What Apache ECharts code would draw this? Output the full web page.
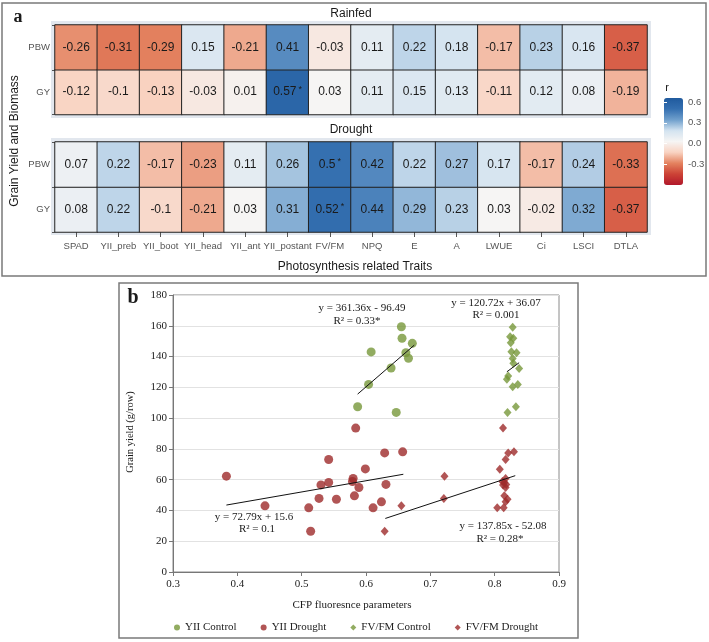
<!DOCTYPE html>
<html><head><meta charset="utf-8">
<script src="https://cdn.jsdelivr.net/npm/echarts@6/dist/echarts.min.js"></script>
<style>html,body{margin:0;padding:0;background:#fff}#c{width:709px;height:642px}</style>
</head><body><div id="c"></div>
<script>
// ---------- Panel a: correlation heatmap ----------
const traits = ['SPAD','YII_preb','YII_boot','YII_head','YII_ant','YII_postant','FV/FM','NPQ','E','A','LWUE','Ci','LSCI','DTLA'];
const responses = ['GY','PBW'];
const rainfedPBW = [-0.26,-0.31,-0.29,0.15,-0.21,0.41,-0.03,0.11,0.22,0.18,-0.17,0.23,0.16,-0.37];
const rainfedGY  = [-0.12,-0.1,-0.13,-0.03,0.01,0.57,0.03,0.11,0.15,0.13,-0.11,0.12,0.08,-0.19];
const droughtPBW = [0.07,0.22,-0.17,-0.23,0.11,0.26,0.5,0.42,0.22,0.27,0.17,-0.17,0.24,-0.33];
const droughtGY  = [0.08,0.22,-0.1,-0.21,0.03,0.31,0.52,0.44,0.29,0.23,0.03,-0.02,0.32,-0.37];
const rainfedPBWSig = [0,0,0,0,0,0,0,0,0,0,0,0,0,0];
const rainfedGYSig  = [0,0,0,0,0,1,0,0,0,0,0,0,0,0];
const droughtPBWSig = [0,0,0,0,0,0,1,0,0,0,0,0,0,0];
const droughtGYSig  = [0,0,0,0,0,0,1,0,0,0,0,0,0,0];
const colorbarTicks = [-0.3, 0, 0.3, 0.6];

// ---------- Panel b: scatter ----------
const yiiControlX = [0.655,0.656,0.672,0.608,0.662,0.666,0.639,0.604,0.587,0.647];
const yiiControlY = [159.4,151.9,148.6,143.0,142.5,138.9,132.6,121.9,107.4,103.7];
const yiiDroughtX = [0.584,0.657,0.629,0.542,0.599,0.383,0.580,0.579,0.542,0.530,0.631,0.589,0.582,0.527,0.554,0.624,0.443,0.511,0.611,0.514];
const yiiDroughtY = [93.5,78.1,77.4,73.1,67.0,62.3,60.8,58.8,58.2,56.6,56.9,54.9,49.5,47.8,47.3,45.6,43.0,41.7,41.7,26.5];
const fvfmControlX = [0.828,0.824,0.829,0.825,0.826,0.834,0.828,0.829,0.838,0.821,0.819,0.828,0.836,0.833,0.820];
const fvfmControlY = [159.0,152.9,151.9,149.0,143.1,142.5,138.8,135.6,132.3,127.3,125.2,120.4,121.9,107.4,103.7];
const fvfmDroughtX = [0.813,0.830,0.821,0.817,0.808,0.722,0.817,0.812,0.815,0.813,0.818,0.817,0.815,0.721,0.820,0.817,0.655,0.804,0.814,0.629];
const fvfmDroughtY = [93.5,78.1,77.4,73.1,66.8,62.3,60.8,58.8,58.2,56.6,56.9,54.9,49.5,47.8,47.3,45.6,43.0,41.7,41.7,26.5];
const yiiControlTrendX = [0.587,0.675], yiiControlTrendY = [115.6,147.4];
const yiiDroughtTrendX = [0.383,0.658], yiiDroughtTrendY = [43.5,63.5];
const fvfmControlTrendX = [0.819,0.838], fvfmControlTrendY = [130.1,136.0];
const fvfmDroughtTrendX = [0.630,0.832], fvfmDroughtTrendY = [34.8,62.6];
const seriesNames = ['YII Control','YII Drought','FV/FM Control','FV/FM Drought'];
const eqYiiControl = ['y = 361.36x - 96.49','R\u00b2 = 0.33*'];
const eqFvfmControl = ['y = 120.72x + 36.07','R\u00b2 = 0.001'];
const eqYiiDrought = ['y = 72.79x + 15.6','R\u00b2 = 0.1'];
const eqFvfmDrought = ['y = 137.85x - 52.08','R\u00b2 = 0.28*'];

const SANS = 'Liberation Sans, Arial, sans-serif';
const SERIF = 'Liberation Serif, Times New Roman, serif';
const GREEN = '#77973a', RED = '#9e2a2b';

function heatData(pbw, gy, pbwSig, gySig) {
  const d = [];
  traits.forEach((t, i) => {
    d.push({value: [i, 0, gy[i]], sig: gySig[i]});
    d.push({value: [i, 1, pbw[i]], sig: pbwSig[i]});
  });
  return d;
}
function zip(xs, ys) { return xs.map((x, i) => [x, ys[i]]); }

const heatLabel = {
  show: true,
  formatter: p => p.data.sig ? '{v|' + p.value[2] + '}{s|*}' : '{n|' + p.value[2] + '}',
  rich: {
    n: {fontSize: 12, fontFamily: SANS, color: '#1a1a1a', lineHeight: 14},
    v: {fontSize: 12, fontFamily: SANS, color: '#1a1a1a', lineHeight: 14, verticalAlign: 'middle'},
    s: {fontSize: 9, fontFamily: SANS, color: '#1a1a1a', verticalAlign: 'top', lineHeight: 10, padding: [0,0,10,2]}
  }
};
function heatSeries(idx, data) {
  return {
    type: 'heatmap', xAxisIndex: idx, yAxisIndex: idx, data: data,
    itemStyle: {borderColor: '#222', borderWidth: 1},
    label: heatLabel, emphasis: {disabled: true}, z: 2
  };
}
function catY(idx) {
  return {gridIndex: idx, type: 'category', data: responses,
    axisLine: {show: false}, axisTick: {show: true, length: 3, lineStyle: {color: '#555'}},
    axisLabel: {fontSize: 9.5, color: '#555', fontFamily: SANS, margin: 5}, splitLine: {show: false}};
}
function catX(idx, showLabels) {
  return {gridIndex: idx, type: 'category', data: traits, position: 'bottom',
    axisLine: {show: false}, axisTick: {show: showLabels, length: 5, alignWithLabel: true, lineStyle: {color: '#555'}},
    axisLabel: {show: showLabels, fontSize: 9.5, color: '#555', fontFamily: SANS, margin: 9, interval: 0},
    splitLine: {show: false}};
}
function text(x, y, t, font, extra) {
  return Object.assign({type: 'text', x: x, y: y, z: 10,
    style: {text: t, textAlign: 'center', textVerticalAlign: 'middle', font: font, fill: '#1a1a1a'}}, extra || {});
}

const chart = echarts.init(document.getElementById('c'), null, {renderer: 'canvas'});
chart.setOption({
  animation: false,
  backgroundColor: '#fff',
  grid: [
    {left: 55, top: 25, width: 592, height: 89.5},
    {left: 55, top: 142, width: 592, height: 90},
    {left: 173, top: 295, width: 386, height: 277, show: true, borderColor: '#8a8a8a', borderWidth: 1},
    {left: 664, top: 98, width: 19, height: 87}
  ],
  xAxis: [
    catX(0, false), catX(1, true),
    {gridIndex: 2, type: 'value', min: 0.3, max: 0.9, interval: 0.1,
      axisLine: {show: true, lineStyle: {color: '#777'}}, axisTick: {show: true, length: 4, lineStyle: {color: '#777'}},
      axisLabel: {fontFamily: SERIF, fontSize: 11, color: '#222', margin: 7, formatter: v => v.toFixed(1)},
      splitLine: {show: false}},
    {gridIndex: 3, type: 'value', show: false, min: 0, max: 1}
  ],
  yAxis: [
    catY(0), catY(1),
    {gridIndex: 2, type: 'value', min: 0, max: 180, interval: 20,
      axisLine: {show: true, lineStyle: {color: '#777'}}, axisTick: {show: true, length: 4, lineStyle: {color: '#777'}},
      axisLabel: {fontFamily: SERIF, fontSize: 11, color: '#222', margin: 6},
      splitLine: {show: true, lineStyle: {color: '#e2e2e2', width: 1}}},
    {gridIndex: 3, type: 'value', min: -0.6, max: 0.66, position: 'right',
      axisLine: {show: false},
      axisTick: {show: true, inside: true, length: 3, customValues: colorbarTicks, lineStyle: {color: '#fff', width: 1}},
      axisLabel: {fontFamily: SANS, fontSize: 9.5, color: '#555', margin: 5, customValues: colorbarTicks,
        formatter: v => v.toFixed(1)},
      splitLine: {show: false}, z: 20},
    {gridIndex: 3, type: 'value', min: -0.6, max: 0.66, position: 'left',
      axisLine: {show: false},
      axisTick: {show: true, inside: true, length: 3, customValues: colorbarTicks, lineStyle: {color: '#fff', width: 1}},
      axisLabel: {show: false}, splitLine: {show: false}, z: 20}
  ],
  visualMap: {
    type: 'continuous', min: -0.6, max: 0.66, seriesIndex: [0, 1],
    left: 664, top: 98, itemWidth: 19, itemHeight: 87, padding: 0,
    calculable: false, text: null, hoverLink: false, z: 5,
    inRange: {color: ['#b2182b','#cc4235','#e4825f','#f9d3c2','#f6f5f4','#d3e3f0','#6f9fcc','#346fb0','#1f5a9e']}
  },
  legend: {
    data: seriesNames.map((n, i) => ({name: n, icon: i < 2 ? 'circle' : 'diamond'})),
    left: 174, top: 622, itemWidth: 6, itemHeight: 6, itemGap: 24, padding: 0,
    textStyle: {fontFamily: SERIF, fontSize: 11, color: '#222'}, selectedMode: false
  },
  series: [
    heatSeries(0, heatData(rainfedPBW, rainfedGY, rainfedPBWSig, rainfedGYSig)),
    heatSeries(1, heatData(droughtPBW, droughtGY, droughtPBWSig, droughtGYSig)),
    {name: seriesNames[0], type: 'scatter', xAxisIndex: 2, yAxisIndex: 2, data: zip(yiiControlX, yiiControlY),
      symbol: 'circle', symbolSize: 9, itemStyle: {color: GREEN}},
    {name: seriesNames[1], type: 'scatter', xAxisIndex: 2, yAxisIndex: 2, data: zip(yiiDroughtX, yiiDroughtY),
      symbol: 'circle', symbolSize: 9, itemStyle: {color: RED}},
    {name: seriesNames[2], type: 'scatter', xAxisIndex: 2, yAxisIndex: 2, data: zip(fvfmControlX, fvfmControlY),
      symbol: 'diamond', symbolSize: [8, 9], itemStyle: {color: GREEN}},
    {name: seriesNames[3], type: 'scatter', xAxisIndex: 2, yAxisIndex: 2, data: zip(fvfmDroughtX, fvfmDroughtY),
      symbol: 'diamond', symbolSize: [8, 9], itemStyle: {color: RED}},
    ...[[yiiControlTrendX, yiiControlTrendY],[yiiDroughtTrendX, yiiDroughtTrendY],
        [fvfmControlTrendX, fvfmControlTrendY],[fvfmDroughtTrendX, fvfmDroughtTrendY]].map(t => ({
      type: 'line', xAxisIndex: 2, yAxisIndex: 2, data: zip(t[0], t[1]), symbol: 'none',
      lineStyle: {color: '#111', width: 1}, z: 4, silent: true}))
  ],
  graphic: [
    {type: 'rect', z: 0, shape: {x: 2, y: 3, width: 704, height: 273}, style: {fill: 'none', stroke: '#7a7a7a', lineWidth: 1.5}},
    {type: 'rect', z: 0, shape: {x: 119, y: 283, width: 459, height: 355}, style: {fill: 'none', stroke: '#7a7a7a', lineWidth: 1.5}},
    {type: 'rect', z: 0, shape: {x: 51, y: 21, width: 600, height: 97}, style: {fill: '#e2e7ee'}},
    {type: 'rect', z: 0, shape: {x: 51, y: 138, width: 600, height: 97}, style: {fill: '#e2e7ee'}},
    text(18, 17, 'a', 'bold 18px ' + SERIF),
    text(351, 14, 'Rainfed', '12px ' + SANS),
    text(351, 130, 'Drought', '12px ' + SANS),
    text(355, 267, 'Photosynthesis related Traits', '12px ' + SANS),
    text(15, 141, 'Grain Yield and Biomass', '12px ' + SANS, {rotation: Math.PI / 2}),
    text(667, 88, 'r', '11px ' + SANS),
    text(133, 298, 'b', 'bold 20px ' + SERIF),
    text(130, 432, 'Grain yield (g/row)', '10.5px ' + SERIF, {rotation: Math.PI / 2}),
    text(352, 605, 'CFP fluoresnce parameters', '11px ' + SERIF),
    text(362, 308, eqYiiControl[0], '11px ' + SERIF),
    text(357, 321, eqYiiControl[1], '11px ' + SERIF),
    text(496, 303, eqFvfmControl[0], '11px ' + SERIF),
    text(496, 315, eqFvfmControl[1], '11px ' + SERIF),
    text(254, 517, eqYiiDrought[0], '11px ' + SERIF),
    text(257, 529, eqYiiDrought[1], '11px ' + SERIF),
    text(503, 526, eqFvfmDrought[0], '11px ' + SERIF),
    text(500, 539, eqFvfmDrought[1], '11px ' + SERIF)
  ]
});
</script></body></html>
